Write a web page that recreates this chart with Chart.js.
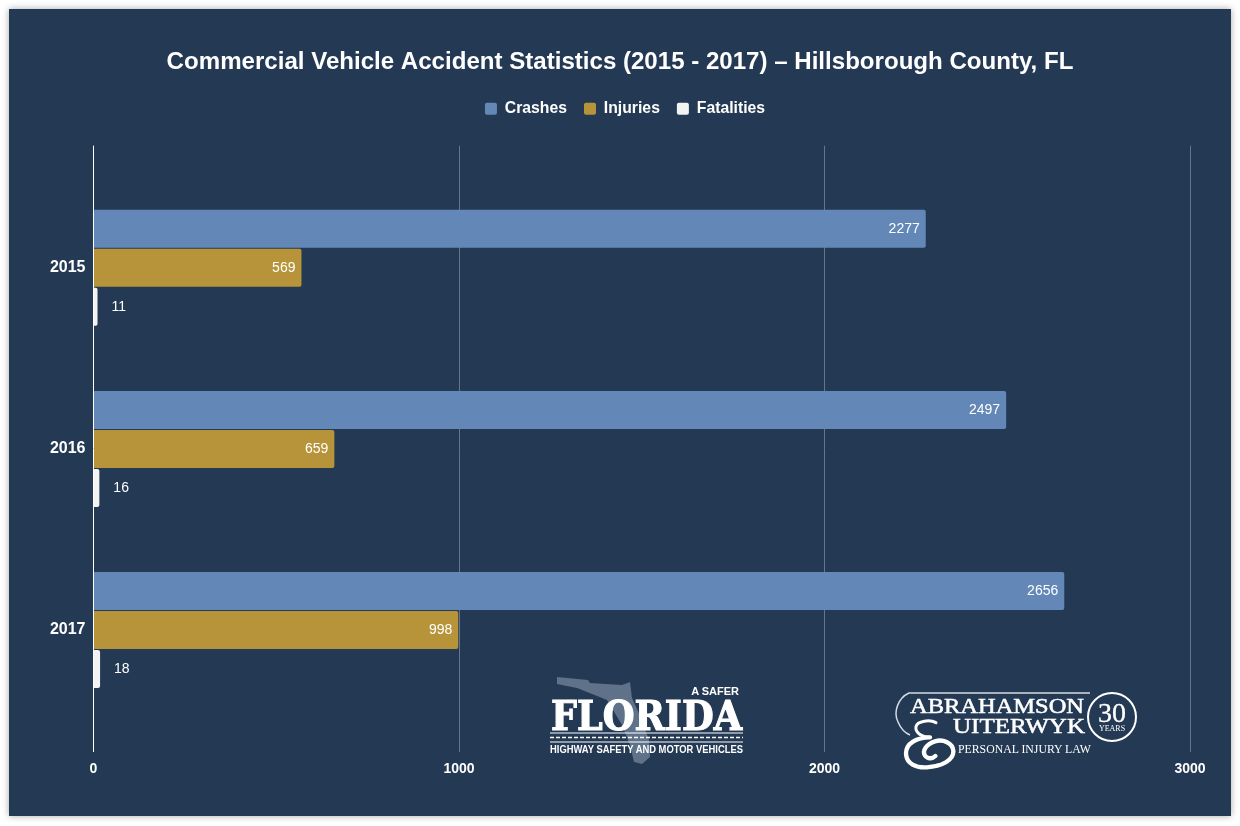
<!DOCTYPE html>
<html>
<head>
<meta charset="utf-8">
<title>Commercial Vehicle Accident Statistics</title>
<script src="https://cdn.jsdelivr.net/npm/chart.js@4/dist/chart.umd.min.js"></script>
<style>
    html, body { margin: 0; padding: 0; background: #fff; }
    body { width: 1240px; height: 826px; overflow: hidden; position: relative; }
    #card {
        position: absolute; left: 9px; top: 9px; width: 1222px; height: 807px;
        background: #243953; box-shadow: 0 0 7px rgba(0, 0, 0, 0.35);
    }
    #chart { position: absolute; left: 0; top: 0; }
    #logos { position: absolute; left: 0; top: 0; pointer-events: none; }
</style>
</head>
<body>
<div id="card"></div>
<canvas id="chart" width="1240" height="826"></canvas>
<svg id="logos" width="1240" height="826" xmlns="http://www.w3.org/2000/svg">
    <!-- state logo -->
    <polygon fill="#5f7289" points="557,677 588,680 590,683 622,685 630,682 632,698 641,718 649,740 650,757 642,764 634,762 630,745 622,725 607,700 592,694 577,688 557,684"/>
    <text x="739" y="695" text-anchor="end" font-family="Liberation Sans" font-weight="700" font-size="11" fill="#fff">A SAFER</text>
    <text x="551" y="730" textLength="191" lengthAdjust="spacingAndGlyphs" font-family="DejaVu Serif" font-weight="700" font-size="41" fill="#fff" stroke="#fff" stroke-width="1.2">FLORIDA</text>
    <line x1="550" x2="743" y1="733" y2="733" stroke="#fff" stroke-width="1"/>
    <line x1="550" x2="743" y1="737.5" y2="737.5" stroke="#fff" stroke-width="1.5" stroke-dasharray="4 2"/>
    <line x1="550" x2="743" y1="742" y2="742" stroke="#fff" stroke-width="1"/>
    <text x="550" y="753" textLength="193" lengthAdjust="spacingAndGlyphs" font-family="Liberation Sans" font-weight="700" font-size="10.5" fill="#fff">HIGHWAY SAFETY AND MOTOR VEHICLES</text>
    <!-- law firm logo -->
    <path d="M1090 693 H909 C898 698 893 712 898 722 C901 729 905 733 910 735" fill="none" stroke="#d5dbe2" stroke-width="1.5"/>
    <text x="910" y="713" textLength="174" lengthAdjust="spacingAndGlyphs" font-family="Liberation Serif" font-size="21" fill="#fff" stroke="#fff" stroke-width="0.5">ABRAHAMSON</text>
    <text x="953" y="733" textLength="132" lengthAdjust="spacingAndGlyphs" font-family="Liberation Serif" font-size="21" fill="#fff" stroke="#fff" stroke-width="0.5">UITERWYK</text>
    <g transform="translate(880 680) scale(0.3333)" fill="none" stroke="#fff" stroke-linecap="round">
        <path stroke-width="9" d="M168 128 C150 118 112 122 108 140 C104 160 130 172 150 172"/>
        <path stroke-width="13" d="M150 172 C110 172 78 190 78 220 C78 252 110 264 140 262 C185 260 222 240 220 212 C218 190 190 176 165 184 C140 192 124 212 136 228 C144 238 158 236 166 228"/>
    </g>
    <text x="958" y="753" textLength="133" lengthAdjust="spacingAndGlyphs" font-family="Liberation Serif" font-size="12.5" fill="#fff">PERSONAL INJURY LAW</text>
    <circle cx="1112" cy="717" r="24" fill="#243953" stroke="#fff" stroke-width="2"/>
    <text x="1112" y="722" text-anchor="middle" font-family="Liberation Serif" font-size="28" fill="#fff" stroke="#fff" stroke-width="0.3">30</text>
    <text x="1112" y="730.5" text-anchor="middle" font-family="Liberation Serif" font-size="8" fill="#fff">YEARS</text>
</svg>

<script>
const years = [2015, 2016, 2017];
const crashes = [2277, 2497, 2656];
const injuries = [569, 659, 998];
const fatalities = [11, 16, 18];
const xTicks = [0, 1000, 2000, 3000];

const chartTitle = "Commercial Vehicle Accident Statistics (2015 - 2017) \u2013 Hillsborough County, FL";
const CRASH_COLOR = "#6388b7";
const INJURY_COLOR = "#b79439";
const FATAL_COLOR = "#f3f3f3";

/* ---------- Value labels ---------- */
const valueLabels = {
    id: "valueLabels",
    beforeLayout(chart) {
        // extra room under the legend
        const legend = chart.legend;
        if (legend.fitPatched) return;
        const fit = legend.fit;
        legend.fit = function () {
            fit.call(this);
            this.height += 19;
        };
        legend.fitPatched = true;
    },
    afterLayout(chart) {
        // legend sits a little right of centre in the original
        chart.legend.left += 5;
        chart.legend.right += 5;
    },
    afterDatasetsDraw(chart) {
        const ctx = chart.ctx;
        ctx.save();
        ctx.font = "14px 'Liberation Sans'";
        ctx.fillStyle = "#ffffff";
        ctx.textBaseline = "middle";
        chart.data.datasets.forEach((ds, i) => {
            chart.getDatasetMeta(i).data.forEach((bar, j) => {
                const v = ds.data[j];
                // short bars get the label outside
                if (v < 100) {
                    ctx.textAlign = "left";
                    ctx.fillText(v, bar.x + 14, bar.y);
                } else {
                    ctx.textAlign = "right";
                    ctx.fillText(v, bar.x - 6, bar.y);
                }
            });
        });
        ctx.restore();
    }
};

const barShape = {
    categoryPercentage: 0.646,
    barPercentage: 0.975,
    borderRadius: { topRight: 2, bottomRight: 2 },
    borderSkipped: false
};

new Chart(document.getElementById("chart").getContext("2d"), {
    type: "bar",
    plugins: [valueLabels],
    data: {
        labels: years,
        datasets: [
            { label: "Crashes", data: crashes, backgroundColor: CRASH_COLOR, ...barShape },
            { label: "Injuries", data: injuries, backgroundColor: INJURY_COLOR, ...barShape },
            { label: "Fatalities", data: fatalities, backgroundColor: FATAL_COLOR, ...barShape }
        ]
    },
    options: {
        indexAxis: "y",
        responsive: false,
        animation: false,
        layout: { padding: { left: 50, right: 50, top: 40, bottom: 39 } },
        plugins: {
            title: {
                display: true,
                text: chartTitle,
                color: "#ffffff",
                font: { family: "'Liberation Sans'", size: 24.08, weight: "bold" },
                padding: { top: 8, bottom: 7 }
            },
            legend: {
                position: "top",
                labels: {
                    color: "#ffffff",
                    font: { family: "'Liberation Sans'", size: 15.75, weight: "bold" },
                    boxWidth: 12,
                    boxHeight: 12,
                    useBorderRadius: true,
                    borderRadius: 2,
                    padding: 17
                }
            },
            tooltip: { enabled: false }
        },
        scales: {
            x: {
                type: "linear",
                position: "bottom",
                min: 0,
                max: 3000,
                afterBuildTicks: scale => { scale.ticks = xTicks.map(value => ({ value })); },
                grid: {
                    color: ctx => ctx.tick.value === 0 ? "#ffffff" : "#66758a",
                    drawTicks: false
                },
                border: { display: false },
                ticks: {
                    color: "#ffffff",
                    padding: 9,
                    maxRotation: 0,
                    callback: v => String(v),
                    font: { family: "'Liberation Sans'", size: 14, weight: "bold" }
                }
            },
            y: {
                type: "linear",
                reverse: true,
                offset: false,
                min: 2014.326,
                max: 2017.674,
                afterBuildTicks: scale => { scale.ticks = years.map(value => ({ value })); },
                afterFit: scale => { scale.width = 43.5; },
                grid: { display: false, drawTicks: false },
                border: { display: false },
                ticks: {
                    color: "#ffffff",
                    padding: 8,
                    callback: v => String(v),
                    font: { family: "'Liberation Sans'", size: 16, weight: "bold" }
                }
            }
        }
    }
});
</script>
</body>
</html>
